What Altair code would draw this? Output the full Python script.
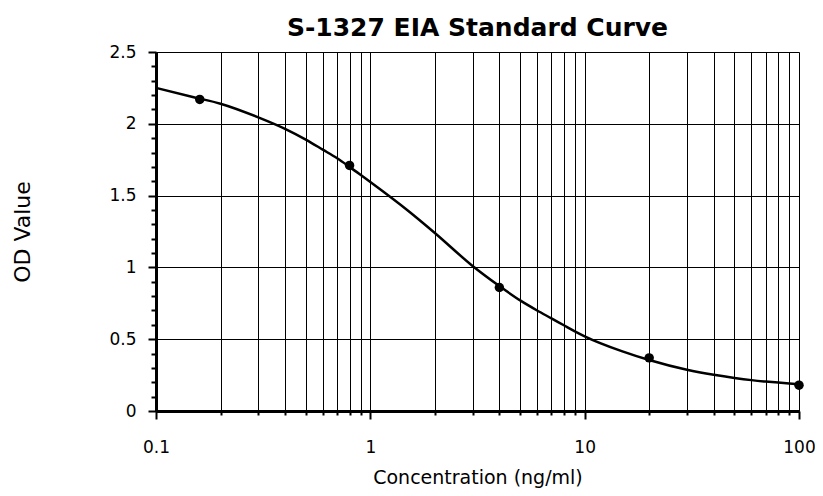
import altair as alt
import pandas as pd

# Measured standards
conc = [0.16, 0.8, 4, 20, 100]
od = [2.17, 1.71, 0.86, 0.37, 0.18]

# Fitted curve
curve_conc = [0.1, 0.15, 0.2, 0.3, 0.4, 0.5, 0.6, 0.7, 0.8, 0.9, 1, 1.5, 2, 3, 4, 5,
              6, 7, 8, 9, 10, 15, 20, 30, 40, 50, 60, 70, 80, 90, 100]
curve_od = [2.25, 2.185, 2.14, 2.045, 1.965, 1.89, 1.82, 1.76, 1.70, 1.645, 1.595, 1.395,
            1.24, 1.01, 0.87, 0.77, 0.70, 0.645, 0.597, 0.555, 0.52, 0.415, 0.355, 0.287,
            0.252, 0.23, 0.215, 0.205, 0.198, 0.192, 0.187]

x_tick_values = [round(m * 10 ** e, 3) for e in (-1, 0, 1) for m in range(1, 10)] + [100]
y_tick_values = [round(i * 0.1, 1) for i in range(0, 26)]

pts = pd.DataFrame({"conc": conc, "od": od})
curve = pd.DataFrame({"conc": curve_conc, "od": curve_od})

FONT = "DejaVu Sans"
is_decade = "abs(log(datum.value)/LN10 - round(log(datum.value)/LN10)) < 0.001"
is_half = "abs(datum.value*2 - round(datum.value*2)) < 0.001"

x_enc = alt.X(
    "conc:Q",
    scale=alt.Scale(type="log", domain=[0.1, 100], nice=False),
    axis=alt.Axis(
        title="Concentration (ng/ml)",
        values=x_tick_values,
        labelExpr=f"({is_decade}) ? format(datum.value, '') : ''",
        grid=True, gridColor="black", gridWidth=1, gridOpacity=1,
        domainColor="black", domainWidth=3,
        tickColor="black", tickWidth=2,
        tickSize={"condition": {"test": is_decade, "value": 8}, "value": 4},
        labelFont=FONT, labelFontSize=17, labelColor="black", labelPadding=20,
        labelFlush=False,
        titleFont=FONT, titleFontSize=19, titleFontWeight="normal", titleColor="black",
        titlePadding=13,
    ),
)
y_enc = alt.Y(
    "od:Q",
    scale=alt.Scale(domain=[0, 2.5], nice=False),
    axis=alt.Axis(
        title="OD Value",
        values=y_tick_values,
        labelExpr=f"({is_half}) ? '' + (round(datum.value*10)/10) : ''",
        grid=True, gridColor="black", gridWidth=1,
        gridOpacity={"condition": {"test": is_half, "value": 1}, "value": 0},
        domainColor="black", domainWidth=3,
        tickColor="black", tickWidth=2,
        tickSize={"condition": {"test": is_half, "value": 8}, "value": 5},
        labelFont=FONT, labelFontSize=17, labelColor="black", labelPadding=12,
        labelFlush=False,
        titleFont=FONT, titleFontSize=22, titleFontWeight="normal", titleColor="black",
        titlePadding=74,
    ),
)

line = alt.Chart(curve).mark_line(color="black", strokeWidth=2.5, interpolate="monotone").encode(
    x=x_enc, y=y_enc
)
dots = alt.Chart(pts).mark_circle(color="black", size=90, opacity=1).encode(
    x=x_enc, y=y_enc
)

chart = (
    alt.layer(line, dots)
    .properties(
        width=643,
        height=359,
        autosize=alt.AutoSizeParams(type="none"),
        padding={"left": 148, "top": 44, "right": 16, "bottom": 77},
        title=alt.TitleParams(
            "S-1327 EIA Standard Curve",
            font=FONT, fontSize=25, fontWeight="bold", color="black",
            anchor="middle", offset=2,
        ),
    )
    .configure_view(stroke="black", strokeWidth=3)
    .configure(background="white")
)

chart.save("out.html", embed_options={"renderer": "svg", "actions": False})
